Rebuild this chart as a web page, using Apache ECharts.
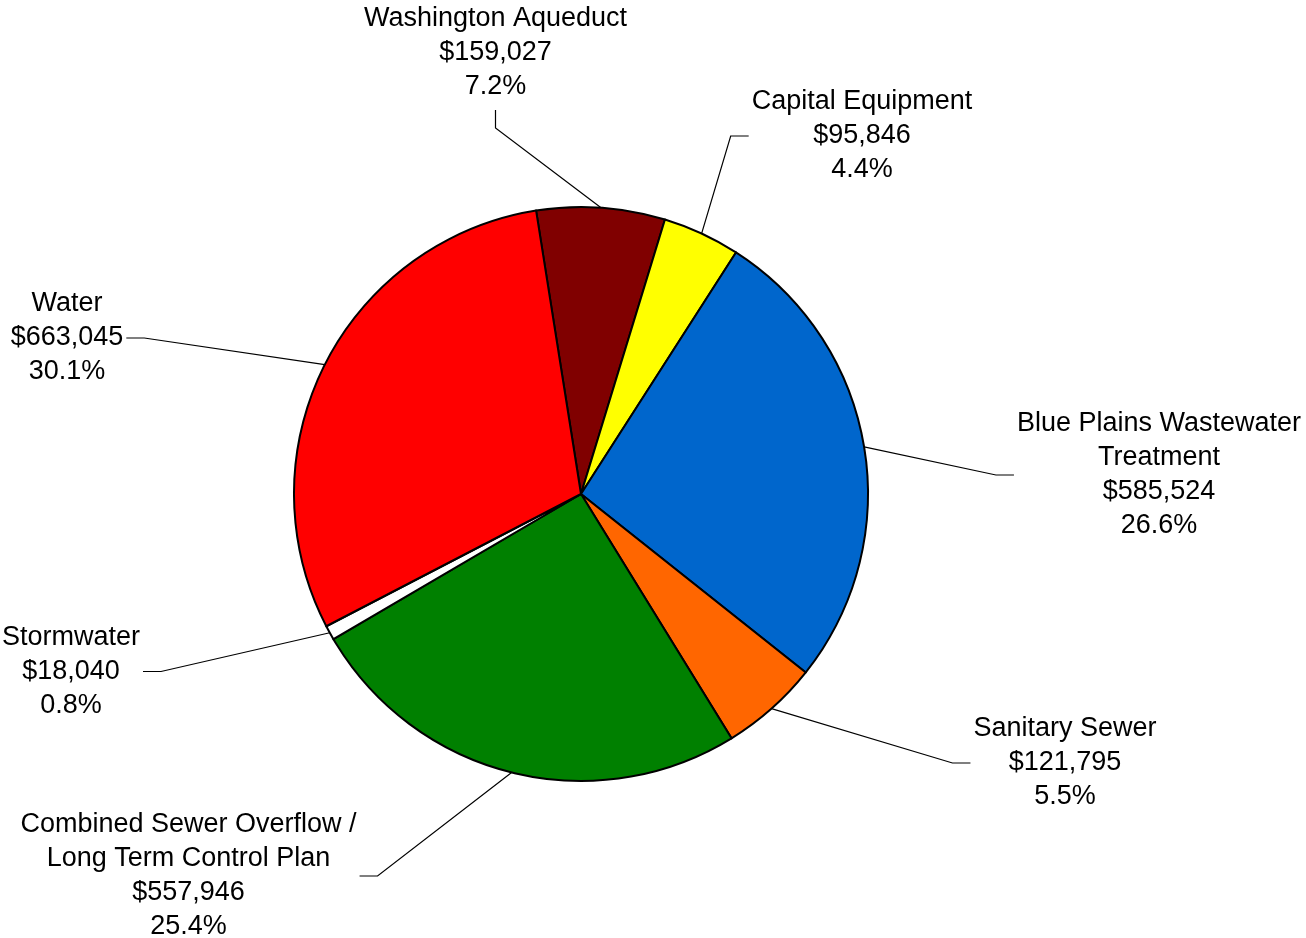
<!DOCTYPE html>
<html>
<head>
<meta charset="utf-8">
<title>Capital Budget by Program</title>
<script src="https://cdn.jsdelivr.net/npm/echarts@6/dist/echarts.min.js"></script>
<style>
  html, body { margin: 0; padding: 0; background: #ffffff; }
  #chart { width: 1306px; height: 938px; }
</style>
</head>
<body>
<div id="chart"></div>
<script>
// Program names (line breaks as they appear in the labels)
const categories = [
  'Washington Aqueduct',
  'Capital Equipment',
  'Blue Plains Wastewater\nTreatment',
  'Sanitary Sewer',
  'Combined Sewer Overflow /\nLong Term Control Plan',
  'Stormwater',
  'Water'
];

// Dollar amounts per program
const amounts = [159027, 95846, 585524, 121795, 557946, 18040, 663045];

// Slice fills, same order as the categories
const sliceColors = ['#800000', '#FFFF00', '#0066CC', '#FF6600', '#008000', '#FFFFFF', '#FF0000'];

// Where each label block sits (center, px) and which edge the leader line meets
const labelSpots = [
  { x: 495.5, y: 53,    edge: 'bottom' },
  { x: 862,   y: 136,   edge: 'left' },
  { x: 1159,  y: 475,   edge: 'left' },
  { x: 1065,  y: 763,   edge: 'left' },
  { x: 188.5, y: 876,   edge: 'right' },
  { x: 71,    y: 671.5, edge: 'right' },
  { x: 67,    y: 338,   edge: 'right' }
];

const ELBOW = 18;   // length of the short leg next to the label
const GAP = 3;      // space between leader line and text

const chart = echarts.init(document.getElementById('chart'), null, { renderer: 'canvas' });

const seriesData = categories.map((name, i) => ({
  name: name,
  value: amounts[i],
  itemStyle: { color: sliceColors[i] }
}));

chart.setOption({
  backgroundColor: '#ffffff',
  animation: false,
  series: [{
    type: 'pie',
    center: [581, 494],
    radius: 287,
    startAngle: 99,
    clockwise: true,
    percentPrecision: 1,
    avoidLabelOverlap: false,
    data: seriesData,
    itemStyle: { borderColor: '#000000', borderWidth: 2 },
    emphasis: { disabled: true },
    label: {
      show: true,
      position: 'outside',
      color: '#000000',
      fontFamily: '"Liberation Sans", Arial, Helvetica, sans-serif',
      fontSize: 27,
      lineHeight: 34,
      align: 'center',
      overflow: 'none',
      formatter: function (p) {
        return p.name + '\n$' + p.value.toLocaleString('en-US') + '\n' + p.percent.toFixed(1) + '%';
      }
    },
    labelLine: {
      show: true,
      lineStyle: { color: '#000000', width: 1.2 }
    },
    labelLayout: function (params) {
      const spot = labelSpots[params.dataIndex];
      const w = params.labelRect.width;
      const h = params.labelRect.height;
      let end, elbow;
      if (spot.edge === 'bottom') {
        end = [spot.x, spot.y + h / 2 + GAP + 3];
        elbow = [spot.x, end[1] + ELBOW];
      } else if (spot.edge === 'left') {
        end = [spot.x - w / 2 - GAP, spot.y];
        elbow = [end[0] - ELBOW, spot.y];
      } else {
        end = [spot.x + w / 2 + GAP, spot.y];
        elbow = [end[0] + ELBOW, spot.y];
      }
      const out = {
        x: spot.x,
        y: spot.y,
        align: 'center',
        verticalAlign: 'middle'
      };
      if (params.labelLinePoints && params.labelLinePoints[0]) {
        const start = params.labelLinePoints[0];
        out.labelLinePoints = [[start[0], start[1]], elbow, end];
      }
      return out;
    }
  }]
});
</script>
</body>
</html>
